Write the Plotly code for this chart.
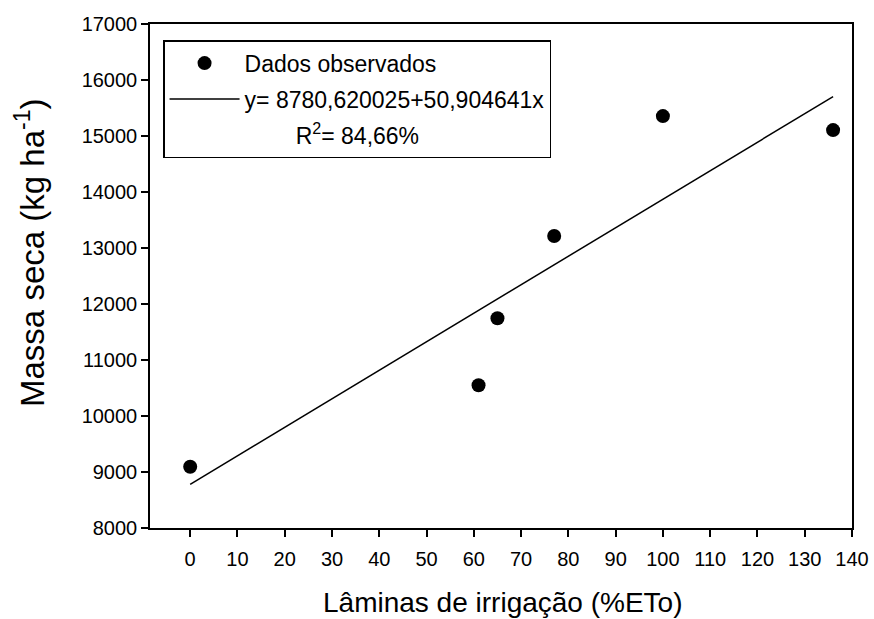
import plotly.graph_objects as go

# Data
laminas = [0, 61, 65, 77, 100, 136]
massa_seca = [9095, 10550, 11745, 13215, 15355, 15105]

intercept = 8780.620025
slope = 50.904641
fit_x = [0, 136]
fit_y = [intercept + slope * v for v in fit_x]

x_ticks = list(range(0, 141, 10))
y_ticks = list(range(8000, 17001, 1000))
y_tick_labels = [str(v) for v in y_ticks]

FONT = "Arial"

fig = go.Figure()
fig.add_trace(go.Scatter(
    x=laminas, y=massa_seca, mode="markers", name="Dados observados",
    marker=dict(color="black", size=14), legendgroup="a"))
fig.add_trace(go.Scatter(
    x=fit_x, y=fit_y, mode="lines", name="y= 8780,620025+50,904641x",
    line=dict(color="black", width=1.5), legendgroup="b"))
fig.add_trace(go.Scatter(
    x=[None], y=[None], mode="none",
    name="\u00a0" * 8 + "R<sup>2</sup>= 84,66%", legendgroup="c"))

axis_common = dict(
    showline=True, linecolor="black", linewidth=1.5, mirror=True,
    ticks="outside", ticklen=7, tickwidth=1.5, tickcolor="black",
    showgrid=False, zeroline=False, automargin=False,
    tickfont=dict(family=FONT, size=20, color="black"),
)

fig.update_layout(
    width=874, height=619,
    margin=dict(l=150, r=22, t=24, b=91),
    paper_bgcolor="white", plot_bgcolor="white",
    font=dict(family=FONT, color="black"),
    showlegend=True,
    legend=dict(
        x=0.0186, y=0.968, xanchor="left", yanchor="top",
        bordercolor="black", borderwidth=1.5, bgcolor="white",
        font=dict(family=FONT, size=23, color="black"),
        traceorder="grouped", tracegroupgap=3, itemwidth=70,
    ),
    xaxis=dict(axis_common, range=[-8.5, 140], tickvals=x_ticks,
               ticklabelstandoff=5),
    yaxis=dict(axis_common, range=[8000, 17000], tickvals=y_ticks,
               ticktext=y_tick_labels),
    annotations=[
        dict(text="Massa seca (kg ha<sup>-1</sup>)", textangle=-90,
             xref="paper", yref="paper", x=-0.171, y=0.5476,
             xanchor="center", yanchor="middle", showarrow=False,
             font=dict(family=FONT, size=33, color="black")),
        dict(text="Lâminas de irrigação (%ETo)",
             xref="paper", yref="paper", x=0.503, y=-0.1488,
             xanchor="center", yanchor="middle", showarrow=False,
             font=dict(family=FONT, size=28, color="black")),
    ],
)

fig.write_html("out.html")
